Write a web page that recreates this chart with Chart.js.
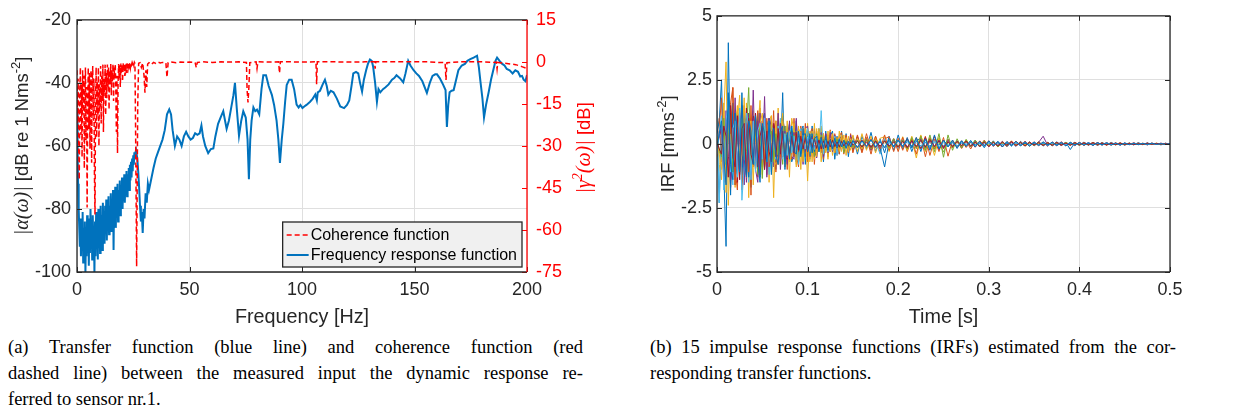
<!DOCTYPE html>
<html>
<head>
<meta charset="utf-8">
<script src="https://cdn.jsdelivr.net/npm/chart.js@4.4.1/dist/chart.umd.min.js"></script>
<style>
  body { margin: 0; background: #fff; width: 1240px; height: 415px; position: relative; overflow: hidden; }
  canvas { position: absolute; top: 0; }
  #chartA { left: 0; }
  #chartB { left: 620px; }
  .cap { position: absolute; font-family: "Liberation Serif", "Times New Roman", serif; font-size: 18.5px; line-height: 26px; color: #000; }
  .cap div { white-space: nowrap; }
  .cap .j { text-align: justify; text-align-last: justify; white-space: normal; }
</style>
</head>
<body>
<canvas id="chartA" width="620" height="330"></canvas>
<canvas id="chartB" width="620" height="330"></canvas>
<div class="cap" style="left:8px; top:334px; width:575px;">
  <div class="j">(a) Transfer function (blue line) and coherence function (red</div>
  <div class="j">dashed line) between the measured input the dynamic response re-</div>
  <div>ferred to sensor nr.1.</div>
</div>
<div class="cap" style="left:650px; top:334px; width:526px;">
  <div class="j">(b) 15 impulse response functions (IRFs) estimated from the cor-</div>
  <div>responding transfer functions.</div>
</div>
<script>
// ---- (a) frequency response function [dB re 1 Nms^-2] ----
const frfFreq = [0,0.25,0.5,0.75,1,1.25,1.5,1.75,2,2.25,2.5,2.75,3,3.25,3.5,3.75,4,4.25,4.5,4.75,
  5,5.25,5.5,5.75,6,6.25,6.5,6.75,7,7.25,7.5,7.75,8,8.25,8.5,8.75,9,9.25,9.5,9.75,
  10,10.25,10.5,10.75,11,11.25,11.5,11.75,12,12.25,12.5,12.75,13,13.25,13.5,13.75,14,14.25,14.5,14.75,
  15,15.25,15.5,15.75,16,16.25,16.5,16.75,17,17.25,17.5,17.75,18,18.25,18.5,18.75,19,19.25,19.5,19.75,
  20,20.25,20.5,20.75,21,21.25,21.5,21.75,22,22.25,22.5,22.75,23,23.25,23.5,23.75,24,24.25,24.5,24.75,
  25,25.25,25.5,25.75,26,26.25,26.8,27.2,27.6,28.0,28.4,28.8,29.2,29.6,
  30.0,30.5,31.0,31.5,32.0,33.0,34.0,35.0,36.0,37.0,38.0,39.0,40.0,41.0,41.8,42.5,43.5,44.5,45.5,46.5,47.5,48.5,49.5,50.5,51.5,
  52.5,53.5,54.5,55.3,56.0,57.0,58.3,59.5,60.6,61.5,62.7,63.8,65.0,66.5,67.5,68.5,69.5,70.2,71.0,72.0,73.0,73.9,75.0,75.8,76.4,
  77.0,77.6,78.4,79.2,80.0,81.0,82.0,82.8,84.0,85.2,86.6,87.6,88.7,89.5,90.2,91.0,91.7,92.5,93.2,94.3,95.4,96.5,97.6,98.5,99.3,
  100.2,101.0,102.0,103.6,104.8,105.9,106.6,107.0,108.0,109.2,110.2,111.0,111.7,112.8,114.0,115.5,117.0,118.7,120.0,121.0,122.0,
  122.8,124.0,125.0,125.8,126.7,127.5,128.5,129.3,130.2,131.0,131.6,132.5,133.3,134.0,134.8,136.0,137.0,138.5,140.0,141.0,142.0,
  143.5,145.0,146.0,147.2,148.2,149.6,150.8,152.0,153.5,155.5,156.8,158.0,159.2,160.0,161.2,162.4,163.8,164.4,165.0,165.6,166.5,
  167.4,168.5,169.5,171.0,172.4,173.5,174.8,176.3,177.8,178.6,179.3,180.2,180.9,181.8,183.0,184.0,185.0,186.0,186.7,187.8,189.0,
  190.0,191.0,192.3,193.6,194.8,196.0,197.0,197.8,198.5,199.3,200.0];
const frfDb = [-49,-60,-72,-80,-86,-92,-83,-95,-85,-90,-81,-97,-86,-93,-84,-100,-87,-95,-82,-91,
  -85,-98,-83,-94,-80,-89,-84,-96,-82,-92,-86,-100,-84,-95,-81,-90,-83,-96,-80,-92,
  -85,-94,-79,-89,-82,-93,-78,-88,-81,-91,-79,-87,-77,-90,-80,-86,-76,-88,-79,-85,
  -75,-87,-78,-84,-74,-93,-76,-83,-73,-86,-75,-82,-72,-84,-74,-80,-71,-82,-73,-79,
  -70,-80,-72,-77,-69,-78,-71,-75,-68,-76,-69,-73,-67,-74,-66,-71,-65,-70,-64,-68,
  -63,-66,-62,-64,-62,-61.4,-64,-68,-73,-79,-84,-81,-87.6,-80,
  -83,-75,-78,-72,-74,-70.5,-67,-64,-62,-60,-58,-55,-50,-48.4,-50,-55,-60,-57,-58,-60,-57,-55.5,-57,-58,-57.5,
  -56,-56.5,-56,-53.5,-57,-60,-62.3,-61,-60.8,-57,-53,-51,-49,-54.6,-52,-48,-44,-40,-48,-56.8,-52,-49,-51,-58,-70.6,
  -58,-52,-47.8,-49,-48.5,-50,-42,-37.6,-37.6,-41,-43.8,-47,-52,-58,-65.4,-58,-53,-46,-40.7,-39,-39,-42,-46.9,-47.8,-47,
  -48,-47.5,-47,-46,-45,-43.7,-45.5,-43,-42.5,-40.5,-39,-41,-43.7,-42.5,-43,-45,-47.5,-48,-47,-45.6,-41,
  -37,-36.5,-37,-40,-42.8,-39,-36,-34,-32.6,-33,-34.8,-40,-46,-42,-43,-42,-41.5,-40.5,-39,-38.5,-37.6,
  -38.5,-39.8,-37,-33,-34.5,-36,-37,-37.8,-39.5,-43.2,-40,-37.8,-37.3,-37.3,-38.5,-40.1,-42.3,-54,-47,-43,-42.5,
  -42.3,-39,-36,-34.5,-34,-33,-32.5,-32,-31.4,-35,-39.5,-45,-51,-47,-42.8,-39,-36,-33,-32,-33,-34,
  -34.5,-35.6,-36,-37,-36,-36.5,-38,-37.8,-39,-39.5,-37.5];

// ---- (a) coherence function [dB] ----
const cohFreq = [0,0.25,0.5,0.75,1,1.25,1.5,1.75,2,2.25,2.5,2.75,3,3.25,3.5,3.75,4,4.25,4.5,4.75,
  5,5.25,5.5,5.75,6,6.25,6.5,6.75,7,7.25,7.5,7.75,8,8.25,8.5,8.75,9,9.25,9.5,9.75,
  10,10.25,10.5,10.75,11,11.25,11.5,11.75,12,12.25,12.5,12.75,13,13.25,13.5,13.75,14,14.25,14.5,14.75,
  15,15.25,15.5,15.75,16,16.25,16.5,16.75,17,17.25,17.5,17.75,18,18.25,18.5,18.75,19,19.25,19.5,19.75,
  20,20.25,20.5,20.75,21,21.25,21.5,21.75,22,22.25,22.5,22.75,23,23.25,23.5,23.75,24,24.25,24.5,24.75,
  25,25.25,25.5,25.75,26.0,26.5,27.0,27.4,28.0,28.6,29.2,29.8,30.2,30.6,
  31.0,31.4,32.0,33.0,34.0,35.0,36.0,37.0,38.0,39.5,40.0,40.5,42.0,44.0,46.0,48.0,50.0,52.5,53.0,53.5,56,60,64,68,72,
  75.3,75.6,76.0,76.4,76.8,79.6,80.0,80.4,86,89.6,90.0,90.4,95,100,106.2,106.5,106.8,115,122,128,132.2,132.5,132.8,
  140,150,156,160,163.6,164.0,164.4,170,180,185,186.4,186.7,187.0,190,195,198,200];
const cohDb = [-3,-22,-6,-30,-42,-10,-2,-26,-8,-34,-3,-18,-5,-38,-12,-2,-28,-9,-52,-16,
  -2,-24,-4,-31,-11,-3,-36,-8,-1.5,-21,-6,-40,-54.5,-13,-2,-27,-7,-19,-2,-30,
  -8,-16,-1.5,-22,-5,-14,-1,-25,-6,-11,-1,-19,-4,-13,-1,-9,-2,-17,-3,-8,
  -0.8,-12,-3,-7,-0.8,-14,-2,-6,-0.7,-10,-25,-5,-32.6,-8,-0.8,-6,-1,-9,-0.6,-4,
  -1,-7,-0.5,-3,-0.8,-5,-0.4,-2.5,-0.6,-4,-0.4,-2,-0.3,-1.5,-0.4,-2,-0.3,-1,-0.2,-0.8,
  -0.3,-1.2,-0.2,-0.6,-20,-73,-15,-0.5,-0.3,-2,-0.4,-5,-11,-3,
  -9,-0.8,-0.3,-1,-0.2,-0.6,-0.1,-0.4,-0.2,-0.3,-5.5,-0.3,-0.1,-0.3,-0.1,-0.2,-0.1,-0.2,-2,-0.2,0,-0.2,0,-0.1,0,
  -0.2,-10,-14.5,-9,-0.3,0,-2.4,0,-0.1,0,-4,0,0,-0.1,0,-8,0,0,-0.1,0,0,-2.4,0,
  0,0,0,-0.2,-0.3,-6.5,-0.3,0,0,-0.2,-0.1,-2.5,-0.2,-0.5,-1,-1.8,-2.4];

// ---- (b) impulse response functions [mms^-2] ----
const irfTime = [0,0.0025,0.005,0.0075,0.01,0.0125,0.015,0.0175,0.02,0.0225,
  0.025,0.0275,0.03,0.0325,0.035,0.0375,0.04,0.0425,0.045,0.0475,
  0.05,0.0525,0.055,0.0575,0.06,0.0625,0.065,0.0675,0.07,0.0725,
  0.075,0.0775,0.08,0.0825,0.085,0.0875,0.09,0.0925,0.095,0.0975,
  0.1,0.1025,0.105,0.1075,0.11,0.1125,0.115,0.1175,0.12,0.1225,
  0.125,0.1275,0.13,0.1325,0.135,0.1375,0.14,0.1425,0.145,0.1475,
  0.15,
  0.155,0.16,0.165,0.17,0.175,0.18,0.185,0.19,0.195,0.2,
  0.205,0.21,0.215,0.22,0.225,0.23,0.235,0.24,0.245,0.25,
  0.255,0.26,0.265,0.27,0.275,0.28,0.285,0.29,0.295,0.3,
  0.305,0.31,0.315,0.32,0.325,0.33,0.335,0.34,0.345,0.35,
  0.355,0.36,0.365,0.37,0.375,0.38,0.385,0.39,0.395,0.4,
  0.405,0.41,0.415,0.42,0.425,0.43,0.435,0.44,0.445,0.45,
  0.455,0.46,0.465,0.47,0.475,0.48,0.485,0.49,0.495,0.5];
const irf1 = [0.3,-2.3,0.9,-1.1,-4.0,3.95,-0.8,1.4,-1.6,0.7,
  -1.2,1.5,0.4,-0.9,1.2,-1.7,0.6,1.1,-0.8,-1.3,
  0.9,1.2,-0.6,-1.1,0.8,0.4,-1.0,0.7,-0.5,1.1,
  -0.9,0.3,0.8,-0.7,-0.4,0.9,-0.6,0.5,0.7,-0.8,
  0.4,-0.6,0.7,-0.3,-0.5,0.6,0.3,-0.7,0.5,-0.4,
  0.3,0.5,-0.6,0.2,-0.4,0.5,-0.3,0.4,-0.5,0.2,
  0.3,
  -0.4,0.3,-0.2,0.45,-0.3,0.2,-0.35,0.3,-0.25,0.35,
  -0.2,0.25,-0.3,0.15,0.2,-0.25,0.18,-0.2,0.15,-0.12,
  0.18,-0.15,0.1,-0.16,0.12,-0.08,0.14,-0.12,0.1,-0.09,
  0.12,-0.1,0.08,-0.11,0.07,-0.09,0.1,-0.06,0.08,-0.07,
  0.06,-0.08,0.05,-0.07,0.08,-0.05,0.06,-0.22,0.05,-0.06,
  0.07,-0.04,0.05,-0.06,0.04,-0.05,0.06,-0.03,0.04,-0.05,
  0.03,-0.04,0.05,-0.03,0.04,-0.03,0.02,-0.04,0.03,-0.02];
const irf2 = [0.4,1.0,-0.7,1.3,-1.5,0.8,1.6,2.2,-1.0,-1.8,
  1.2,-0.6,1.5,-1.4,0.9,-2.0,1.1,0.5,-1.3,1.4,
  -0.9,0.6,-1.2,1.0,-0.5,1.3,-1.1,0.7,-0.8,1.0,
  0.5,-1.0,0.8,-0.6,1.0,-0.4,-0.9,0.7,-0.5,0.8,
  -0.7,0.4,0.6,-0.8,0.5,-0.3,0.6,-0.6,0.4,-0.5,
  0.55,-0.3,0.4,-0.45,0.3,0.45,-0.4,0.25,-0.35,0.4,
  -0.3,
  0.35,-0.3,0.4,-0.25,0.3,-0.35,0.2,0.28,-0.3,0.22,
  -0.25,0.2,-0.15,0.25,-0.2,0.3,-0.45,0.18,-0.3,0.25,
  -0.48,0.15,-0.1,0.12,-0.14,0.08,-0.1,0.12,-0.08,0.1,
  -0.07,0.09,-0.1,0.06,-0.08,0.1,-0.06,0.07,-0.09,0.05,
  -0.06,0.07,-0.05,0.06,-0.07,0.04,-0.05,0.06,-0.04,0.05,
  -0.06,0.04,-0.03,0.05,-0.04,0.03,-0.05,0.04,-0.03,0.02,
  -0.03,0.04,-0.02,0.03,-0.02,0.03,-0.02,0.01,-0.02,0.01];
const irf3 = [0.9,-0.8,-1.4,1.2,3.2,-2.4,0.6,1.5,-1.7,0.8,
  1.9,-1.2,-0.7,1.6,-2.1,0.9,1.3,-1.0,0.6,1.7,
  -1.2,0.5,0.9,-1.5,1.1,-0.6,-0.8,1.4,-0.7,0.9,
  -0.9,0.6,-1.3,1.0,0.5,-0.8,0.7,-1.0,0.6,-0.4,
  0.8,-0.7,0.5,-0.6,0.6,-0.3,0.7,-0.5,0.3,-0.6,
  0.5,-0.45,0.35,-0.4,0.5,-0.3,0.35,-0.45,0.3,-0.25,
  0.35,
  -0.3,0.4,-0.25,0.3,-0.35,0.22,0.28,-0.3,0.2,-0.22,
  0.28,-0.25,0.18,-0.55,0.3,-0.15,0.22,-0.18,0.2,-0.14,
  0.12,-0.15,0.1,-0.12,0.15,-0.1,0.08,-0.12,0.1,-0.08,
  0.09,-0.11,0.06,-0.08,0.1,-0.07,0.08,-0.05,0.07,-0.06,
  0.05,-0.07,0.06,-0.05,0.04,-0.06,0.05,-0.04,0.06,-0.05,
  0.04,-0.03,0.05,-0.04,0.03,-0.05,0.04,-0.03,0.02,-0.04,
  0.03,-0.02,0.03,-0.03,0.02,-0.02,0.03,-0.01,0.02,-0.01];
const irf4 = [-0.3,0.5,0.8,-1.1,1.3,-0.5,-0.9,1.6,-1.4,0.7,
  1.1,-0.9,0.6,-1.5,1.2,-0.8,2.1,-1.0,-1.5,1.2,
  -0.6,1.85,-1.3,0.5,1.0,-0.9,-0.6,1.2,-1.0,0.4,
  0.7,-0.8,0.9,-0.5,-0.6,1.0,-0.7,0.5,-0.8,0.6,
  0.7,-0.5,-0.4,0.6,-0.55,0.3,0.45,-0.5,0.4,-0.35,
  0.45,-0.3,0.35,-0.4,0.2,0.3,-0.28,0.3,-0.25,0.35,
  -0.28,
  0.28,-0.22,0.2,-0.25,0.18,-0.2,0.15,-0.18,0.2,-0.15,
  0.12,-0.14,0.16,-0.1,0.12,-0.1,0.14,-0.12,0.1,-0.08,
  0.08,-0.1,0.12,-0.06,0.09,-0.08,0.1,-0.07,0.06,-0.09,
  0.08,-0.06,0.05,-0.07,0.06,-0.05,0.07,-0.06,0.05,-0.07,
  0.06,0.3,-0.06,0.05,-0.07,0.06,-0.04,0.05,-0.06,0.04,
  -0.03,0.05,-0.04,0.03,-0.05,0.04,-0.03,0.02,-0.04,0.03,
  -0.02,0.03,-0.02,0.02,-0.03,0.02,-0.01,0.02,-0.01,0.01];
const irf5 = [0.1,-0.3,-0.6,0.9,-1.2,0.6,1.0,-0.8,-0.5,1.3,
  -0.9,0.6,-1.0,0.5,2.2,-1.0,0.4,0.8,-1.2,0.7,
  -1.35,0.6,-0.4,-1.0,0.9,-0.7,0.5,-0.3,0.9,-0.8,
  0.7,-0.5,0.4,0.6,-0.4,0.5,-0.7,0.3,-0.6,0.4,
  0.5,-0.35,0.3,-0.5,0.4,-0.3,0.35,-0.2,-0.3,0.25,
  -0.3,0.28,-0.22,0.25,-0.2,0.3,-0.35,0.2,-0.18,0.15,
  -0.2,
  0.12,-0.15,0.18,-0.12,0.1,-0.14,0.12,-0.1,0.08,-0.1,
  0.1,-0.12,0.09,-0.15,0.12,-0.1,0.08,-0.12,0.06,-0.32,
  0.06,-0.08,0.1,-0.06,0.08,-0.1,0.05,-0.07,0.09,-0.05,
  0.06,-0.08,0.04,-0.05,0.06,-0.04,0.05,-0.03,0.04,-0.05,
  0.03,-0.02,0.04,-0.03,0.05,-0.04,0.03,-0.05,0.04,-0.03,
  0.02,-0.04,0.03,-0.02,0.03,-0.03,0.02,-0.02,0.03,-0.01,
  0.02,-0.02,0.01,-0.02,0.02,-0.01,0.01,-0.02,0.01,-0.01];
const irf6 = [1.3,-2.3,0.5,0.8,-1.2,1.5,-0.6,-1.6,1.2,-0.9,
  0.6,1.4,-1.0,0.8,-1.5,0.4,1.1,-0.7,0.9,-1.1,
  0.6,-0.9,0.8,-1.2,0.5,0.7,-0.5,-0.8,1.0,-0.6,
  0.5,-0.5,0.45,0.7,-0.4,0.35,-0.8,0.6,-0.45,0.3,
  0.6,-0.35,-0.5,0.4,0.3,-0.3,1.3,-0.4,0.25,-0.3,
  0.2,-0.25,0.3,-0.45,0.2,0.15,-0.22,0.18,-0.3,0.2,
  -0.12,
  0.14,-0.1,0.16,-0.12,0.1,-0.4,0.2,-0.15,0.12,-0.18,
  0.15,-0.12,0.09,-0.1,0.12,-0.08,0.06,-0.09,0.07,-0.06,
  0.08,-0.05,0.06,-0.07,0.04,-0.05,0.06,-0.04,0.03,-0.05,
  0.04,-0.03,0.02,-0.03,0.05,-0.04,0.03,-0.05,0.04,-0.03,
  0.04,-0.02,0.03,-0.04,0.02,-0.03,0.04,-0.02,0.03,-0.02,
  0.02,-0.03,0.02,-0.01,0.02,-0.02,0.03,-0.02,0.01,-0.02,
  0.01,-0.01,0.02,-0.01,0.01,-0.02,0.01,-0.01,0.01,0.0];
const irf7 = [0.0,0.3,0.6,-0.9,0.4,1.4,-1.7,0.8,1.2,-1.5,
  1.0,-0.6,-1.2,1.4,-0.8,0.5,1.1,-1.0,0.7,-1.2,
  0.9,-0.5,-0.6,0.8,-0.7,0.5,0.9,-0.8,0.6,-0.5,
  0.4,-0.6,0.35,0.5,-0.4,0.45,-0.3,0.35,-0.35,0.25,
  -0.3,0.2,0.3,-0.25,0.22,-0.2,0.25,-0.18,0.2,-0.15,
  0.18,-0.2,0.12,-0.15,0.14,-0.12,0.1,-0.14,0.08,-0.1,
  0.08,
  -0.12,0.15,-0.1,0.18,-0.14,0.1,-0.16,0.12,-0.1,0.14,
  -0.12,0.2,-0.15,0.12,-0.18,0.25,-0.2,0.3,-0.22,0.15,
  -0.12,0.1,-0.14,0.12,-0.09,0.11,-0.13,0.1,-0.08,0.12,
  -0.1,0.08,-0.12,0.09,-0.07,0.1,-0.08,0.11,-0.06,0.08,
  -0.07,0.06,-0.09,0.07,-0.05,0.08,-0.06,0.05,-0.07,0.06,
  -0.05,0.04,-0.06,0.05,-0.04,0.05,-0.03,0.04,-0.05,0.04,
  -0.03,0.04,-0.03,0.02,-0.04,0.03,-0.02,0.03,-0.02,0.01];
const irf8 = [0.4,0.9,2.5,-1.0,0.6,1.5,-2.0,1.6,-0.7,-1.2,
  0.9,-1.5,1.1,0.6,-1.3,0.8,-0.5,-0.9,1.2,-0.8,
  0.6,-1.0,0.7,1.0,-0.5,0.6,-0.7,0.5,-0.4,2.0,
  -1.0,0.7,-0.5,0.3,0.6,-0.7,0.5,-0.4,0.6,-0.5,
  0.3,-0.45,0.4,-0.3,0.25,0.3,-0.35,0.3,-0.2,0.25,
  -0.3,0.2,-0.25,0.3,-0.22,0.18,-0.15,0.25,-0.18,0.12,
  -0.2,
  0.15,-0.18,0.15,-0.1,0.12,-0.15,-0.9,0.1,-0.08,0.12,
  -0.1,0.09,-0.07,0.1,-0.08,0.06,-0.09,0.07,-0.05,0.08,
  -0.06,0.05,-0.07,0.04,-0.05,0.06,-0.04,0.03,-0.05,0.04,
  -0.03,0.04,-0.02,0.03,-0.02,0.04,-0.03,0.02,-0.04,0.03,
  -0.02,0.03,-0.03,0.02,-0.02,0.03,-0.01,0.02,-0.03,0.02,
  -0.02,0.01,-0.02,0.02,-0.01,0.02,-0.02,0.01,-0.01,0.02,
  -0.01,0.01,-0.02,0.01,-0.01,0.01,-0.01,0.01,-0.01,0.0];
const irf9 = [-0.5,0.6,1.8,-1.3,-0.6,0.9,0.4,2.2,-1.6,0.7,
  1.3,-1.8,-0.5,0.9,-1.1,1.5,-0.9,0.4,1.3,-1.2,
  0.8,-0.7,1.0,-0.9,-0.4,0.5,-0.7,0.6,-0.5,0.7,
  -0.45,0.5,-0.4,0.3,-0.5,0.4,-0.3,0.5,-0.35,0.45,
  -0.5,0.35,-0.4,0.3,-0.35,0.45,-0.3,0.4,-0.25,0.35,
  -0.3,0.4,-0.35,0.25,-0.4,0.3,-0.2,0.35,-0.3,0.25,
  -0.35,
  0.3,-0.35,0.25,-0.4,0.3,-0.2,0.35,-0.25,0.2,-0.3,
  0.25,-0.3,0.2,-0.4,0.3,-0.5,0.25,-0.2,0.15,-0.2,
  0.18,-0.15,0.12,-0.18,0.14,-0.2,0.12,-0.1,0.15,-0.12,
  0.1,-0.12,0.08,-0.1,0.12,-0.08,0.06,-0.09,0.07,-0.06,
  0.08,-0.05,0.06,-0.07,0.05,-0.06,0.04,-0.05,0.06,-0.04,
  0.05,-0.03,0.04,-0.05,0.03,-0.04,0.03,-0.02,0.04,-0.03,
  0.02,-0.03,0.02,-0.02,0.03,-0.02,0.01,-0.02,0.01,-0.01];
const irf10 = [0.3,-0.4,-1.0,1.6,-1.9,0.7,1.2,-0.8,0.5,1.5,
  -1.1,-0.4,1.8,-1.3,0.7,0.9,-1.6,1.1,-0.6,0.8,
  1.2,-0.9,-0.5,0.9,1.1,-2.1,0.9,-0.8,0.5,1.2,
  -0.6,0.9,-0.7,-0.4,0.8,-0.9,0.6,0.4,-0.7,0.6,
  -1.45,0.5,-0.7,0.8,-0.5,0.6,-0.7,0.4,-0.35,0.5,
  -0.3,0.4,-0.35,0.25,-0.3,0.35,-0.2,0.25,-0.3,0.2,
  -0.15,
  0.22,-0.2,0.15,-0.12,0.2,-0.15,0.1,-0.18,0.12,-0.1,
  0.15,-0.25,0.3,-0.2,0.35,-0.3,0.2,-0.45,0.25,-0.2,
  0.12,-0.08,0.06,-0.1,0.08,-0.07,0.05,-0.08,0.06,-0.05,
  0.07,-0.06,0.04,-0.05,0.06,-0.04,0.05,-0.03,0.04,-0.03,
  0.02,-0.03,0.02,-0.01,0.03,-0.02,0.02,-0.03,0.02,-0.01,
  0.03,-0.02,0.02,-0.02,0.01,-0.02,0.02,-0.01,0.02,-0.01,
  0.01,-0.02,0.01,-0.01,0.02,-0.01,0.01,-0.01,0.01,0.0];
const irf11 = [-0.2,0.3,0.7,-1.5,0.6,1.1,-1.4,-0.6,1.8,-1.0,
  0.5,1.3,-1.6,0.8,-0.5,-1.2,1.0,-0.7,0.9,-1.1,
  0.6,0.4,-0.8,1.0,-0.5,0.7,-0.6,-0.4,0.8,-0.4,
  0.5,-0.55,0.4,-0.3,0.45,-0.35,0.3,-0.25,0.35,-0.3,
  0.2,-0.25,0.25,-0.2,0.18,-0.22,0.15,-0.18,0.2,-0.12,
  0.15,-0.15,0.1,-0.12,0.14,-0.1,0.08,-0.12,0.1,-0.08,
  0.07,
  0.12,-0.1,0.14,-0.12,0.09,-0.15,0.11,-0.08,0.13,-0.1,
  0.16,-0.12,0.1,-0.14,0.2,-0.16,0.12,-0.1,0.15,-0.18,
  0.14,-0.1,0.12,-0.08,0.1,-0.12,0.09,-0.11,0.08,-0.1,
  0.09,-0.07,0.1,-0.08,0.06,-0.09,0.07,-0.08,0.06,-0.05,
  0.07,-0.06,0.05,-0.07,0.04,-0.06,0.05,-0.04,0.06,-0.05,
  0.04,-0.05,0.03,-0.04,0.05,-0.03,0.04,-0.03,0.02,-0.04,
  0.03,-0.02,0.03,-0.02,0.03,-0.02,0.01,-0.02,0.02,-0.01];
const irf12 = [0.2,-0.2,-0.5,1.0,-0.8,0.4,1.2,-1.1,0.6,0.7,
  -0.9,1.0,-0.6,-0.3,0.9,-0.8,0.5,0.6,-0.7,0.6,
  -0.5,0.7,-0.4,0.3,0.5,-0.6,0.4,-0.45,0.5,-0.3,
  0.4,-0.35,0.3,-0.25,0.35,-0.3,0.2,0.3,-0.25,0.3,
  -0.2,0.15,-0.2,0.25,-0.15,0.2,-0.12,0.18,-0.15,0.12,
  -0.1,0.14,-0.12,0.2,-0.15,0.1,-0.18,0.12,-0.1,0.15,
  -0.12,
  0.15,-0.12,0.18,-0.2,0.14,-0.1,0.12,-0.15,0.2,-0.12,
  0.15,-0.2,0.25,-0.18,0.3,-0.25,0.35,-0.3,0.4,-0.52,
  0.35,-0.25,0.2,-0.15,0.18,-0.12,0.15,-0.1,0.12,-0.08,
  0.1,-0.12,0.08,-0.06,0.09,-0.07,0.06,-0.08,0.05,-0.06,
  0.07,-0.05,0.04,-0.06,0.05,-0.04,0.06,-0.03,0.04,-0.05,
  0.03,-0.04,0.05,-0.03,0.04,-0.02,0.03,-0.04,0.02,-0.03,
  0.03,-0.02,0.02,-0.03,0.02,-0.01,0.02,-0.02,0.01,-0.01];
const irf13 = [-0.4,0.5,1.1,-1.8,0.9,1.7,-1.1,0.6,0.9,-1.3,
  1.4,-2.2,-0.9,1.2,0.7,-1.4,0.9,-1.1,0.5,0.8,
  -0.6,1.0,-0.7,0.9,-1.1,0.5,-0.6,0.7,0.4,-0.5,
  0.4,-0.45,0.5,-0.35,0.3,-0.4,0.25,-0.3,0.35,-0.2,
  0.28,-0.3,0.18,-0.22,0.25,-0.15,0.2,-0.18,0.15,-0.2,
  0.12,-0.1,0.15,-0.12,0.1,-0.1,0.08,-0.12,0.1,-0.07,
  0.08,
  -0.14,0.1,-0.12,0.15,-0.1,0.12,-0.16,0.1,-0.12,0.14,
  -0.1,0.12,-0.18,0.14,-0.1,0.16,-0.2,0.12,-0.15,0.1,
  -0.12,0.09,-0.1,0.12,-0.08,0.1,-0.09,0.07,-0.11,0.08,
  -0.07,0.09,-0.06,0.08,-0.1,0.06,-0.07,0.08,-0.05,0.07,
  -0.06,0.05,-0.07,0.04,-0.06,0.05,-0.04,0.06,-0.05,0.04,
  -0.03,0.05,-0.04,0.03,-0.05,0.04,-0.03,0.02,-0.04,0.03,
  -0.02,0.03,-0.02,0.02,-0.03,0.02,-0.01,0.02,-0.01,0.01];
const irf14 = [0.1,-0.2,-0.4,0.7,0.3,-1.3,1.5,-0.5,-0.9,1.1,
  -1.4,0.6,0.8,-1.2,1.0,-0.4,-0.8,1.2,-0.9,0.3,
  0.7,-1.0,0.5,-0.3,-0.7,0.8,-0.5,0.6,-0.4,0.5,
  -0.6,0.35,-0.4,0.3,-0.35,0.4,-0.25,0.3,-0.2,0.25,
  -0.3,0.2,-0.15,0.2,-0.18,0.15,-0.2,0.12,-0.15,0.1,
  -0.12,0.15,-0.1,0.08,-0.12,0.1,-0.08,0.05,-0.06,0.08,
  -0.05,
  0.1,-0.12,0.08,-0.14,0.11,-0.09,0.12,-0.1,0.08,-0.13,
  0.1,-0.15,0.12,-0.1,0.14,-0.12,0.18,-0.1,0.12,-0.14,
  0.08,-0.1,0.09,-0.07,0.11,-0.08,0.06,-0.09,0.07,-0.1,
  0.06,-0.08,0.07,-0.05,0.09,-0.06,0.05,-0.07,0.06,-0.04,
  0.05,-0.06,0.04,-0.05,0.06,-0.04,0.03,-0.05,0.04,-0.03,
  0.04,-0.03,0.05,-0.02,0.03,-0.04,0.02,-0.03,0.03,-0.02,
  0.02,-0.03,0.01,-0.02,0.02,-0.01,0.02,-0.01,0.01,-0.01];
const irf15 = [-0.1,0.4,0.9,-0.5,-1.6,2.0,-0.8,-1.4,1.2,0.6,
  -1.1,2.0,-0.6,-1.3,0.9,0.5,-0.8,1.1,-0.7,-1.5,
  0.8,0.4,-0.7,0.9,-1.2,0.6,-0.4,-0.8,0.5,0.7,
  -0.7,0.45,-0.6,0.7,-0.3,-0.4,0.5,-0.5,0.35,0.4,
  -0.3,0.4,-0.35,0.2,0.3,-0.3,0.25,-0.2,0.3,-0.25,
  0.15,-0.2,0.22,-0.15,0.18,-0.12,0.15,-0.18,0.1,-0.12,
  0.14,
  -0.15,0.12,-0.1,0.16,-0.12,0.1,-0.14,0.18,-0.12,0.15,
  -0.1,0.2,-0.15,0.25,-0.3,0.2,-0.25,0.35,-0.2,0.15,
  -0.12,0.15,-0.18,0.12,-0.1,0.14,-0.12,0.1,-0.15,0.12,
  -0.08,0.1,-0.12,0.09,-0.07,0.1,-0.08,0.06,-0.09,0.07,
  -0.06,0.08,-0.05,0.07,-0.06,0.05,-0.08,0.06,-0.04,0.05,
  -0.05,0.04,-0.06,0.05,-0.03,0.04,-0.05,0.03,-0.04,0.03,
  -0.03,0.02,-0.03,0.02,-0.02,0.03,-0.02,0.01,-0.02,0.01];
const irfSeries = [irf1, irf2, irf3, irf4, irf5, irf6, irf7, irf8, irf9, irf10, irf11, irf12, irf13, irf14, irf15];
const matlabColors = ['#0072BD', '#D95319', '#EDB120', '#7E2F8E', '#77AC30', '#4DBEEE', '#A2142F'];

const FONT = '"Liberation Sans", Arial, Helvetica, sans-serif';
const MATH = '"Liberation Serif", "Times New Roman", serif';
const TICK = '#262626';
const GRID = '#dfdfdf';

function pts(xs, ys) {
  return xs.map((x, i) => ({ x: x, y: ys[i] })).filter(p => p.y !== undefined);
}

// rotated axis label made of pieces (for the superscripts / math part)
function drawLabel(ctx, cx, cy, color, parts) {
  ctx.save();
  ctx.translate(cx, cy);
  ctx.rotate(-Math.PI / 2);
  ctx.fillStyle = color;
  ctx.textBaseline = 'alphabetic';
  let total = 0;
  parts.forEach(p => { ctx.font = p.font; p.w = ctx.measureText(p.t).width; total += p.w; });
  let x = -total / 2;
  parts.forEach(p => { ctx.font = p.font; ctx.fillText(p.t, x, 7 + (p.dy || 0)); x += p.w; });
  ctx.restore();
}

// axis box with inward ticks, like MATLAB
const boxPlugin = {
  id: 'mbox',
  afterDatasetsDraw(chart, args, opts) {
    const { ctx, chartArea: a, scales } = chart;
    const len = 5;
    ctx.save();
    ctx.lineWidth = 1;
    ctx.strokeStyle = TICK;
    ctx.beginPath();
    scales.x.ticks.forEach((t, i) => {
      const px = Math.round(scales.x.getPixelForTick(i)) + 0.5;
      ctx.moveTo(px, a.bottom); ctx.lineTo(px, a.bottom - len);
      ctx.moveTo(px, a.top); ctx.lineTo(px, a.top + len);
    });
    scales.y.ticks.forEach((t, i) => {
      const py = Math.round(scales.y.getPixelForTick(i)) + 0.5;
      ctx.moveTo(a.left, py); ctx.lineTo(a.left + len, py);
      if (!scales.y2) { ctx.moveTo(a.right, py); ctx.lineTo(a.right - len, py); }
    });
    ctx.stroke();
    if (scales.y2) {
      ctx.strokeStyle = opts.rightColor;
      ctx.beginPath();
      scales.y2.ticks.forEach((t, i) => {
        const py = Math.round(scales.y2.getPixelForTick(i)) + 0.5;
        ctx.moveTo(a.right, py); ctx.lineTo(a.right - len, py);
      });
      ctx.stroke();
    }
    ctx.lineWidth = 1.3;
    ctx.strokeStyle = TICK;
    ctx.beginPath();
    ctx.moveTo(a.right, a.top); ctx.lineTo(a.left, a.top); ctx.lineTo(a.left, a.bottom); ctx.lineTo(a.right, a.bottom);
    ctx.stroke();
    ctx.strokeStyle = opts.rightColor || TICK;
    ctx.beginPath(); ctx.moveTo(a.right, a.top); ctx.lineTo(a.right, a.bottom); ctx.stroke();
    ctx.restore();
    (opts.labels || []).forEach(l => drawLabel(ctx, l.x, (a.top + a.bottom) / 2 + (l.dy || 0), l.color, l.parts));
  }
};

// legend box in lower right corner of the axes
const boxLegend = {
  id: 'boxLegend',
  afterDraw(chart) {
    const { ctx, chartArea: a } = chart;
    const items = chart.data.datasets.map(d => ({ label: d.label, color: d.borderColor, dash: d.borderDash || [], w: d.borderWidth }));
    ctx.save();
    ctx.font = '16px ' + FONT;
    const tw = Math.max(...items.map(it => ctx.measureText(it.label).width));
    const w = tw + 33, h = 45;
    const x = a.right - 5 - w, y = a.bottom - 5 - h;
    ctx.fillStyle = '#f0f0f0';
    ctx.fillRect(x, y, w, h);
    ctx.lineWidth = 1.3;
    ctx.strokeStyle = TICK;
    ctx.strokeRect(x, y, w, h);
    items.forEach((it, i) => {
      const cy = y + 13 + i * 20;
      ctx.strokeStyle = it.color;
      ctx.lineWidth = it.w;
      ctx.setLineDash(it.dash);
      ctx.beginPath(); ctx.moveTo(x + 4, cy); ctx.lineTo(x + 26, cy); ctx.stroke();
      ctx.setLineDash([]);
      ctx.fillStyle = '#000';
      ctx.textBaseline = 'middle';
      ctx.fillText(it.label, x + 28, cy + 1);
    });
    ctx.restore();
  }
};

Chart.defaults.font.family = FONT;
Chart.defaults.color = TICK;

const sans = s => s + 'px ' + FONT;
const math = s => 'italic ' + s + 'px ' + MATH;

new Chart(document.getElementById('chartA'), {
  type: 'line',
  data: {
    datasets: [{
      label: 'Coherence function',
      data: pts(cohFreq, cohDb),
      yAxisID: 'y2',
      borderColor: '#ff0000',
      borderWidth: 1.5,
      borderDash: [5, 3],
      pointRadius: 0,
      order: 0
    }, {
      label: 'Frequency response function',
      data: pts(frfFreq, frfDb),
      yAxisID: 'y',
      borderColor: '#0072BD',
      borderWidth: 2,
      pointRadius: 0,
      order: 1
    }]
  },
  options: {
    responsive: false,
    animation: false,
    devicePixelRatio: 1,
    layout: { padding: { top: 13, right: 20, left: 0, bottom: 0 } },
    plugins: {
      legend: { display: false }, tooltip: { enabled: false },
      mbox: {
        rightColor: '#ff0000',
        labels: [
          { x: 21, dy: 0, color: TICK, parts: [
            { t: '|α(ω)|', font: math(20) }, { t: ' [dB re 1 Nms', font: sans(18.5) },
            { t: '-2', font: sans(13), dy: -8 }, { t: ']', font: sans(18.5) }] },
          { x: 583, dy: 2, color: '#ff0000', parts: [
            { t: '|γ', font: math(20) }, { t: '2', font: 'italic 14px ' + MATH, dy: -8 },
            { t: '(ω)|', font: math(20) }, { t: ' [dB]', font: sans(18.5) }] }
        ]
      }
    },
    scales: {
      x: {
        type: 'linear', min: 0, max: 200,
        afterFit: s => { s.height = 58; },
        ticks: { stepSize: 50, padding: 7, font: { size: 18 }, color: TICK, maxRotation: 0 },
        grid: { color: GRID, drawTicks: false },
        border: { display: false },
        title: { display: true, text: 'Frequency [Hz]', font: { size: 19.8 }, color: TICK, padding: { top: 0, bottom: 1 } }
      },
      y: {
        type: 'linear', position: 'left', min: -100, max: -20,
        afterFit: s => { s.width = 77; },
        ticks: { stepSize: 20, padding: 6, font: { size: 18 }, color: TICK },
        grid: { color: GRID, drawTicks: false },
        border: { display: false }
      },
      y2: {
        type: 'linear', position: 'right', min: -75, max: 15,
        afterFit: s => { s.width = 73; },
        ticks: { stepSize: 15, padding: 9, font: { size: 18 }, color: '#ff0000' },
        grid: { display: false, drawTicks: false },
        border: { display: false }
      }
    }
  },
  plugins: [boxPlugin, boxLegend]
});

new Chart(document.getElementById('chartB'), {
  type: 'line',
  data: {
    datasets: irfSeries.map((s, i) => ({
      label: 'IRF ' + (i + 1),
      data: pts(irfTime, s),
      borderColor: matlabColors[i % 7],
      borderWidth: 1,
      pointRadius: 0,
      order: irfSeries.length - i
    }))
  },
  options: {
    responsive: false,
    animation: false,
    devicePixelRatio: 1,
    layout: { padding: { top: 13, right: 70, left: 0, bottom: 0 } },
    plugins: {
      legend: { display: false }, tooltip: { enabled: false },
      mbox: {
        labels: [
          { x: 47, dy: 0, color: TICK, parts: [
            { t: 'IRF [mms', font: sans(18.5) }, { t: '-2', font: sans(13), dy: -8 }, { t: ']', font: sans(18.5) }] }
        ]
      }
    },
    scales: {
      x: {
        type: 'linear', min: 0, max: 0.5,
        afterFit: s => { s.height = 58; },
        ticks: { stepSize: 0.1, padding: 7, font: { size: 18 }, color: TICK, maxRotation: 0 },
        grid: { color: GRID, drawTicks: false },
        border: { display: false },
        title: { display: true, text: 'Time [s]', font: { size: 19.8 }, color: TICK, padding: { top: 0, bottom: 1 } }
      },
      y: {
        type: 'linear', position: 'left', min: -5, max: 5,
        afterFit: s => { s.width = 97; },
        ticks: { stepSize: 2.5, padding: 5, font: { size: 18 }, color: TICK },
        grid: { color: GRID, drawTicks: false },
        border: { display: false }
      }
    }
  },
  plugins: [boxPlugin]
});
</script>
</body>
</html>
